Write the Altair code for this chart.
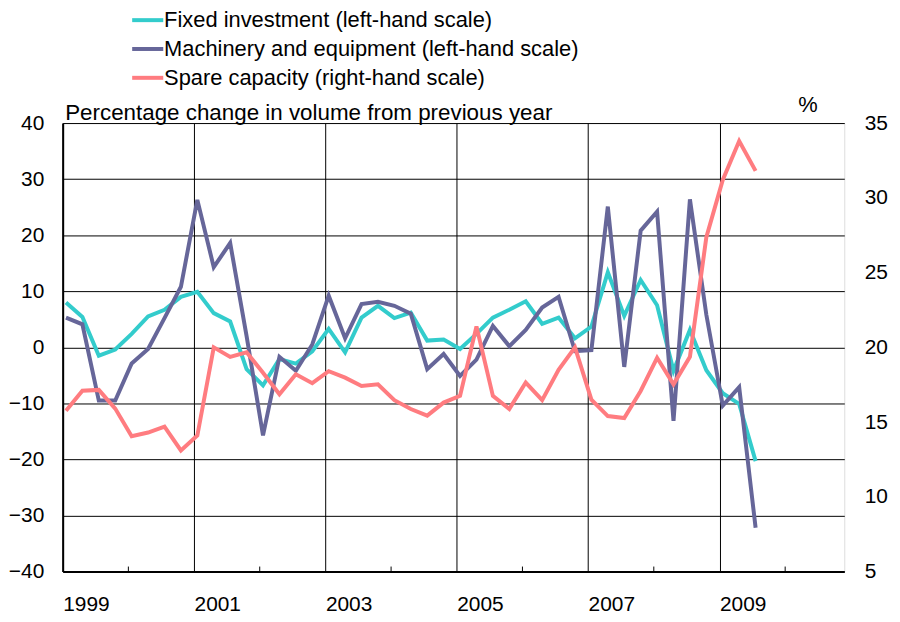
import altair as alt
import pandas as pd

# ---------------- data ----------------
quarters = [
    "1999Q1", "1999Q2", "1999Q3", "1999Q4", "2000Q1", "2000Q2", "2000Q3", "2000Q4",
    "2001Q1", "2001Q2", "2001Q3", "2001Q4", "2002Q1", "2002Q2", "2002Q3", "2002Q4",
    "2003Q1", "2003Q2", "2003Q3", "2003Q4", "2004Q1", "2004Q2", "2004Q3", "2004Q4",
    "2005Q1", "2005Q2", "2005Q3", "2005Q4", "2006Q1", "2006Q2", "2006Q3", "2006Q4",
    "2007Q1", "2007Q2", "2007Q3", "2007Q4", "2008Q1", "2008Q2", "2008Q3", "2008Q4",
    "2009Q1", "2009Q2", "2009Q3",
]
fixed_investment = [
    8.0, 5.4, -1.5, -0.4, 2.4, 5.5, 6.7, 9.0, 9.9, 6.1, 4.6,
    -3.9, -6.8, -2.1, -2.9, -0.7, 3.3, -0.9, 5.3, 7.4, 5.2, 6.2,
    1.2, 1.4, -0.3, 2.4, 5.3, 6.7, 8.2, 4.2, 5.3, 1.6,
    3.7, 13.4, 5.6, 12.0, 7.5, -4.2, 3.1, -4.1, -8.2, -10.1, -20.3,
]
machinery = [
    5.3, 4.1, -9.5, -9.5, -2.9, -0.3, 5.2, 10.8, 26.3, 14.3, 18.6,
    2.0, -15.7, -1.7, -4.2, 0.5, 9.2, 1.6, 7.7, 8.1, 7.4, 6.0,
    -3.9, -1.2, -5.1, -2.2, 3.8, 0.2, 3.1, 7.1, 9.0, -0.7,
    -0.5, 25.1, -3.5, 20.8, 24.2, -13.1, 26.4, 5.8, -10.4, -7.1, -32.2,
]
spare_capacity = [
    15.76, 17.1, 17.15, 15.9, 14.05, 14.3, 14.7, 13.1, 14.1, 20.0, 19.36,
    19.67, 18.3, 16.86, 18.19, 17.6, 18.4, 17.97, 17.41, 17.53, 16.46, 15.87,
    15.43, 16.3, 16.75, 21.4, 16.75, 15.87, 17.64, 16.46, 18.5, 20.0,
    16.5, 15.4, 15.27, 17.08, 19.3, 17.52, 19.36, 27.36, 31.2, 33.8, 31.8,
]

series_names = [
    "Fixed investment (left-hand scale)",
    "Machinery and equipment (left-hand scale)",
    "Spare capacity (right-hand scale)",
]
series_colors = ["#33CCCC", "#666699", "#FF7C80"]

labelled_years = [1999, 2001, 2003, 2005, 2007, 2009]
minor_tick_years = [2000, 2002, 2004, 2006, 2008, 2010]
left_ticks = [-40, -30, -20, -10, 0, 10, 20, 30, 40]
right_ticks = [5, 10, 15, 20, 25, 30, 35]


def quarter_pos(q):
    year, n = q.split("Q")
    return int(year) + (int(n) - 1) / 4 + 0.05


t = [quarter_pos(q) for q in quarters]

df_left = pd.DataFrame({
    "t": t + t,
    "value": fixed_investment + machinery,
    "series": [series_names[0]] * len(t) + [series_names[1]] * len(t),
    "order": [0] * len(t) + [1] * len(t),
})
df_right = pd.DataFrame({
    "t": t,
    "value": spare_capacity,
    "series": [series_names[2]] * len(t),
})
df_ticks = pd.DataFrame({"t": minor_tick_years})

# ---------------- chart ----------------
FONT = "Liberation Sans"
W, H = 786, 451

x_scale = alt.Scale(domain=[1999, 2010.9], nice=False, zero=False)
color_scale = alt.Scale(domain=series_names, range=series_colors)

x_axis = alt.Axis(
    values=labelled_years,
    format="d",
    title=None,
    grid=True,
    gridColor="black",
    gridWidth=1,
    ticks=False,
    domain=True,
    domainColor="black",
    domainWidth=2,
    labelFont=FONT,
    labelFontSize=21,
    labelColor="black",
    labelAlign="left",
    labelBaseline="top",
    labelPadding=22,
)

legend = alt.Legend(
    title=None,
    orient="none",
    legendX=71,
    legendY=-118,
    direction="vertical",
    symbolType="M-1.25,0H1.25",
    symbolSize=625,
    symbolStrokeWidth=4,
    labelFont=FONT,
    labelFontSize=22,
    labelColor="black",
    labelOffset=2,
    rowPadding=3,
    padding=0,
    labelLimit=700,
)

left = alt.Chart(df_left).mark_line(strokeWidth=4).encode(
    x=alt.X("t:Q", scale=x_scale, axis=x_axis),
    y=alt.Y(
        "value:Q",
        scale=alt.Scale(domain=[-40, 40], nice=False, zero=False),
        axis=alt.Axis(
            values=left_ticks,
            title="Percentage change in volume from previous year",
            titleAngle=0,
            titleAlign="left",
            titleBaseline="alphabetic",
            titleX=2,
            titleY=-4,
            titleFont=FONT,
            titleFontSize=22.5,
            titleFontWeight="normal",
            titleColor="black",
            grid=True,
            gridColor="black",
            gridWidth=1,
            ticks=False,
            domain=True,
            domainColor="black",
            domainWidth=2,
            labelFont=FONT,
            labelFontSize=21,
            labelColor="black",
            labelPadding=19,
        ),
    ),
    color=alt.Color("series:N", scale=color_scale, sort=series_names, legend=legend),
    order=alt.Order("order:Q"),
)

right = alt.Chart(df_right).mark_line(strokeWidth=4).encode(
    x=alt.X("t:Q", scale=x_scale, axis=x_axis),
    y=alt.Y(
        "value:Q",
        scale=alt.Scale(domain=[5, 35], nice=False, zero=False),
        axis=alt.Axis(
            orient="right",
            values=right_ticks,
            title="%",
            titleAngle=0,
            titleAlign="center",
            titleBaseline="alphabetic",
            titleX=-37,
            titleY=-12,
            titleFont=FONT,
            titleFontSize=22,
            titleFontWeight="normal",
            titleColor="black",
            grid=False,
            ticks=False,
            domain=False,
            labelFont=FONT,
            labelFontSize=21,
            labelColor="black",
            labelPadding=20,
        ),
    ),
    color=alt.Color("series:N", scale=color_scale, sort=series_names, legend=legend),
)

ticks = alt.Chart(df_ticks).mark_rule(color="black", strokeWidth=1).encode(
    x=alt.X("t:Q", scale=x_scale, axis=x_axis),
    y=alt.value(H),
    y2=alt.value(H - 5),
)

chart = (
    alt.layer(left, right, ticks)
    .resolve_scale(y="independent")
    .properties(
        width=W,
        height=H,
        autosize=alt.AutoSizeParams(type="none"),
        padding={"left": 55, "top": 114, "right": 48, "bottom": 41},
    )
    .configure_view(stroke="black", strokeWidth=1)
    .configure(background="white")
)

chart.save("out.html", embed_options={"renderer": "svg", "actions": False})
